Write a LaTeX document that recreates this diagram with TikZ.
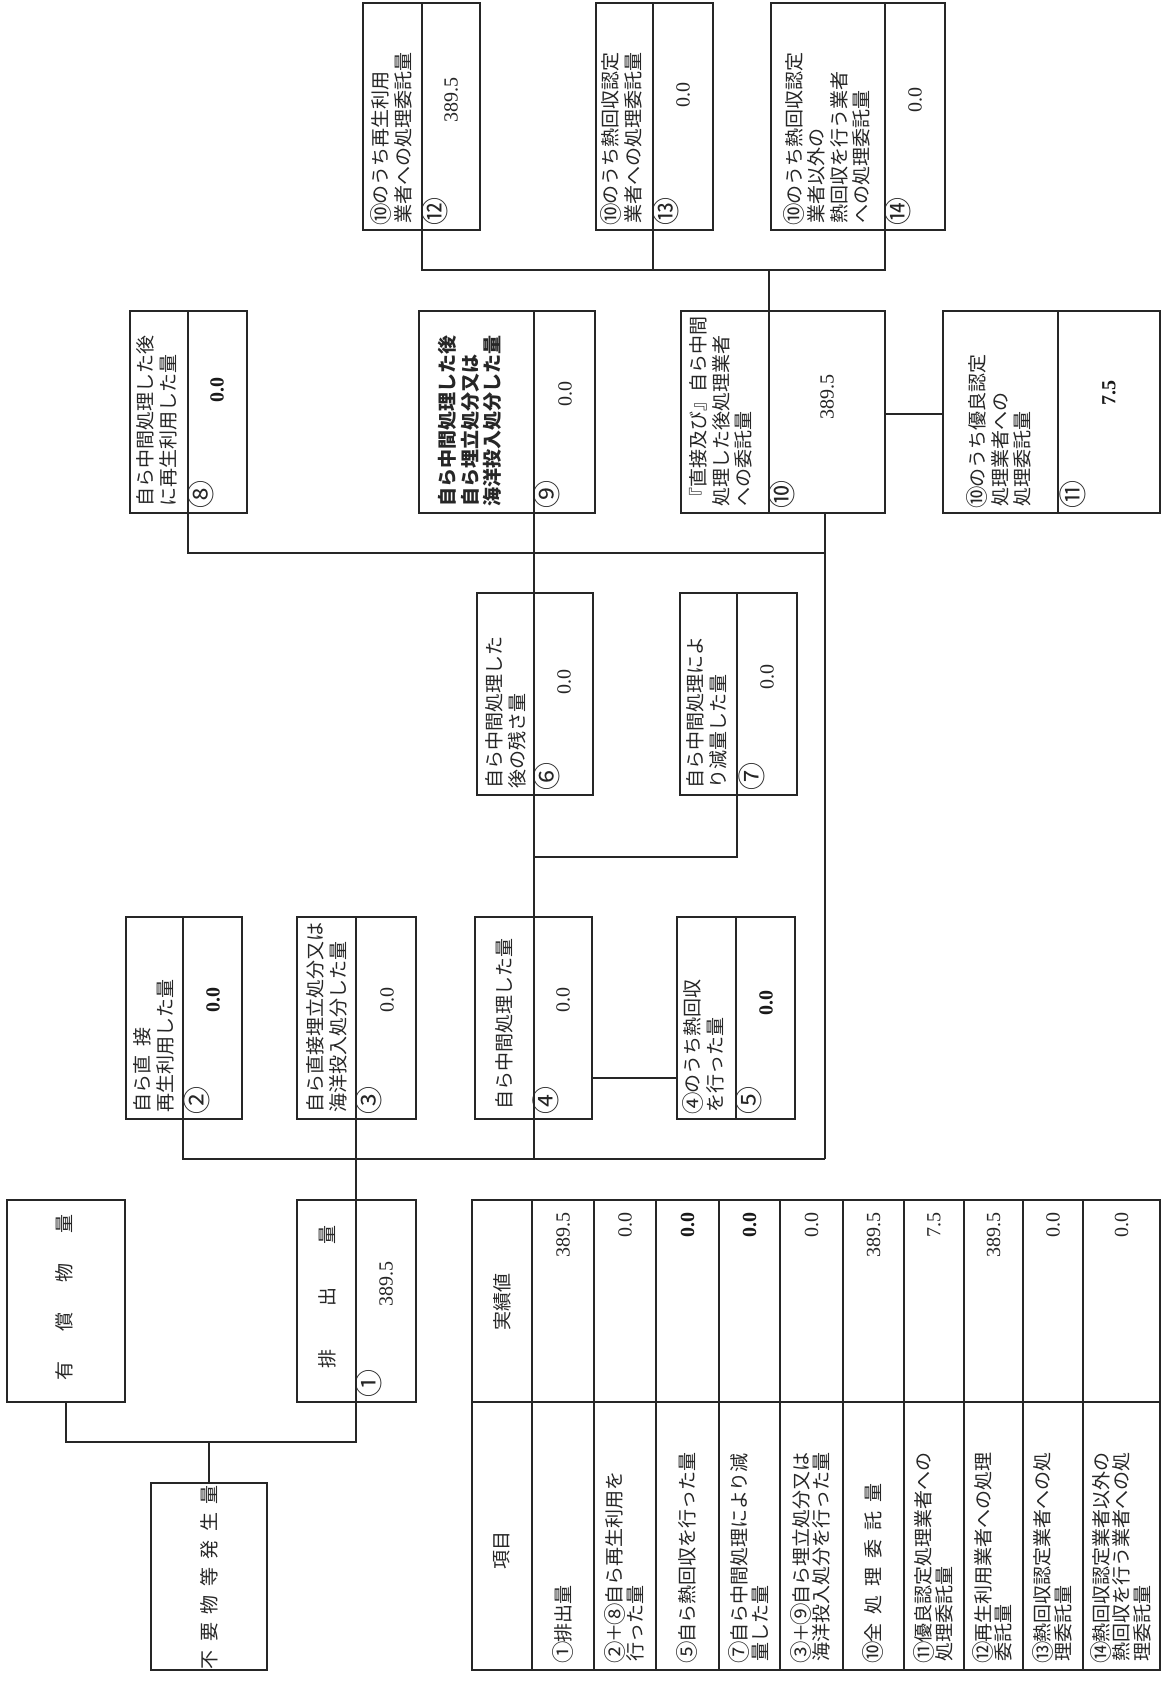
\documentclass[tikz,border=0pt]{standalone}
\usepackage{fontspec}
\usepackage{graphicx}
\setmainfont{Noto Sans CJK JP}
\newfontfamily\numfont{Liberation Serif}
\newcommand\cn[1]{\makebox[1em]{\raisebox{-0.06em}{\smash{\scalebox{1.18}{#1}}}}}
\newcommand\flowbox[6]{%
  \node[bx, minimum width={#4-#2}, minimum height={#5-#3}] (#1) at ({(#2+#4)/2},{(#3+#5)/2}) {};
  \coordinate (#1-dt) at (#6,#3);
  \coordinate (#1-db) at (#6,#5);
  \draw[ln] (#1-dt) -- (#1-db);
}
\begin{document}
\begin{tikzpicture}[x=1pt,y=-1pt,
  ln/.style={line width=1.3pt, draw=black!85},
  bx/.style={ln, rectangle, inner sep=0pt, outer sep=0pt},
  ttl/.style={rotate=90, anchor=west, align=left, inner sep=0pt, font=\fontsize{19}{22.5}\selectfont, text=black!85},
  mk/.style={rotate=90, anchor=west, inner sep=0pt, font=\fontsize{28}{28}\selectfont, text=black!85},
  vl/.style={rotate=90, inner sep=0pt, font=\numfont\fontsize{20}{20}\selectfont, text=black!85},
  vb/.style={rotate=90, inner sep=0pt, font=\numfont\bfseries\fontsize{20}{20}\selectfont, text=black!90},
  tl/.style={rotate=90, anchor=west, align=left, inner sep=0pt, font=\fontsize{19}{20.5}\selectfont, text=black!85},
  th/.style={rotate=90, inner sep=0pt, font=\fontsize{19}{19}\selectfont, text=black!85},
  big/.style={rotate=90, inner sep=0pt, font=\fontsize{19}{19}\selectfont, text=black!85}
]
\fill[white] (0,0) rectangle (1168,1689);
\useasboundingbox (0,0) rectangle (1168,1689);

% ---------- boxes ----------
\flowbox{b12}{363}{3}{480}{230}{422}
\flowbox{b13}{596}{3}{713}{230}{653}
\flowbox{b14}{771}{3}{945}{230}{885}
\flowbox{b8}{130}{311}{247}{513}{188}
\flowbox{b9}{419}{311}{595}{513}{534}
\flowbox{b10}{681}{311}{885}{513}{769}
\flowbox{b11}{943}{311}{1160}{513}{1058}
\flowbox{b6}{477}{593}{593}{795}{534}
\flowbox{b7}{680}{593}{797}{795}{737}
\flowbox{b2}{126}{917}{242}{1119}{183}
\flowbox{b3}{297}{917}{416}{1119}{356}
\flowbox{b4}{475}{917}{592}{1119}{534}
\flowbox{b5}{677}{917}{795}{1119}{736}
\flowbox{b1}{297}{1200}{416}{1402}{356}
\node[bx, minimum width=118, minimum height=202] (yushou) at (66,1301) {};
\node[bx, minimum width=116, minimum height=187] (fuyou) at (209,1576.5) {};

% ---------- connectors ----------
\coordinate (jL) at (66,1442);
\coordinate (jR) at (356,1442);
\coordinate (jS) at (209,1442);
\draw[ln] (yushou.south) -- (jL) -- (jR) -- (b1-db);
\draw[ln] (jS) -- (fuyou.north);
\coordinate (busBL) at (183,1159);
\coordinate (busBR) at (825,1159);
\draw[ln] (b2-db) -- (busBL) -- (busBR);
\draw[ln] (b3-db) -- (b1-dt);
\draw[ln] (b4-db) -- (b4-db |- busBL);
\draw[ln] (busBR) -- (b10.south -| busBR);
\draw[ln] (b4.east |- 0,1078) -- (b5.west |- 0,1078);
\coordinate (j7) at (534,857);
\draw[ln] (b4-dt) -- (b6-db);
\draw[ln] (b7-db) -- (b7-db |- j7) -- (j7);
\draw[ln] (b6-dt) -- (b9-db);
\coordinate (busML) at (188,553);
\coordinate (busMR) at (825,553);
\draw[ln] (b8-db) -- (busML) -- (busMR);
\draw[ln] (b10.east |- 0,414) -- (b11.west |- 0,414);
\coordinate (busTL) at (422,270);
\coordinate (busTR) at (885,270);
\draw[ln] (b12-db) -- (busTL) -- (busTR) -- (b14-db);
\draw[ln] (b13-db) -- (b13-db |- busTL);
\draw[ln] (b10-dt) -- (b10-dt |- busTL);

% ---------- box texts ----------
\node[ttl] at (392,224) {\cn{⑩}のうち再生利用\\業者への処理委託量};
\node[mk] at (435,226) {⑫};
\node[vl] at (451,100) {389.5};

\node[ttl] at (622,224) {\cn{⑩}のうち熱回収認定\\業者への処理委託量};
\node[mk] at (666,226) {⑬};
\node[vl] at (683,95) {0.0};

\node[ttl] at (828,224) {\cn{⑩}のうち熱回収認定\\業者以外の\\熱回収を行う業者\\への処理委託量};
\node[mk] at (898,226) {⑭};
\node[vl] at (915,100) {0.0};

\node[ttl] at (157,507) {自ら中間処理した後\\に再生利用した量};
\node[mk] at (201,509) {⑧};
\node[vb] at (217,390) {0.0};

\node[ttl, font=\bfseries\fontsize{19}{22.5}\selectfont] at (470,507) {自ら中間処理した後\\自ら埋立処分又は\\海洋投入処分した量};
\node[mk] at (547,509) {⑨};
\node[vl] at (565,394) {0.0};

\node[ttl] at (721,507) {『直接及び』自ら中間\\処理した後処理業者\\への委託量};
\node[mk] at (782,509) {⑩};
\node[vl] at (827,397) {389.5};

\node[ttl] at (1000,507) {\cn{⑩}のうち優良認定\\処理業者への\\処理委託量};
\node[mk] at (1073,509) {⑪};
\node[vb] at (1109,393) {7.5};

\node[ttl] at (506,789) {自ら中間処理した\\後の残さ量};
\node[mk] at (547,791) {⑥};
\node[vl] at (564,682) {0.0};

\node[ttl] at (707,789) {自ら中間処理によ\\り減量した量};
\node[mk] at (752,791) {⑦};
\node[vl] at (767,677) {0.0};

\node[ttl] at (154,1113) {自ら直\hspace{9pt}接\\再生利用した量};
\node[mk] at (197,1115) {②};
\node[vb] at (213,1000) {0.0};

\node[ttl] at (327,1113) {自ら直接埋立処分又は\\海洋投入処分した量};
\node[mk] at (369,1115) {③};
\node[vl] at (387,1000) {0.0};

\node[ttl] at (504,1110) {自ら中間処理した量};
\node[mk] at (546,1115) {④};
\node[vl] at (563,1000) {0.0};

\node[ttl] at (704,1113) {\cn{④}のうち熱回収\\を行った量};
\node[mk] at (749,1115) {⑤};
\node[vb] at (766,1003) {0.0};

\node[big] at (327,1297) {排\hspace{43pt}出\hspace{43pt}量};
\node[mk] at (369,1398) {①};
\node[vl] at (386,1284) {389.5};

\node[big] at (64,1297) {有\hspace{30pt}償\hspace{30pt}物\hspace{30pt}量};
\node[big] at (209,1577) {不\hspace{8.5pt}要\hspace{8.5pt}物\hspace{8.5pt}等\hspace{8.5pt}発\hspace{8.5pt}生\hspace{8.5pt}量};

% ---------- table ----------
\node[bx, minimum width=688, minimum height=470] (tbl) at (816,1435) {};
\draw[ln] (tbl.west |- 0,1402) -- (tbl.east |- 0,1402);
\foreach \rx in {532,594,656,719,780,843,904,964,1023,1083}
  \draw[ln] (tbl.north -| \rx,0) -- (tbl.south -| \rx,0);

\node[th] at (502,1550) {項目};
\node[th] at (502,1302) {実績値};

\node[tl] at (563,1662) {\cn{①}排出量};
\node[tl] at (625,1662) {\cn{②}＋\cn{⑧}自ら再生利用を\\行った量};
\node[tl] at (687.5,1662) {\cn{⑤}自ら熱回収を行った量};
\node[tl] at (749.5,1662) {\cn{⑦}自ら中間処理により減\\量した量};
\node[tl] at (811.5,1662) {\cn{③}＋\cn{⑨}自ら埋立処分又は\\海洋投入処分を行った量};
\node[tl] at (873.5,1662) {\cn{⑩}全\hspace{9pt}処\hspace{9pt}理\hspace{9pt}委\hspace{9pt}託\hspace{9pt}量};
\node[tl] at (934,1662) {\cn{⑪}優良認定処理業者への\\処理委託量};
\node[tl] at (993.5,1662) {\cn{⑫}再生利用業者への処理\\委託量};
\node[tl] at (1053,1662) {\cn{⑬}熱回収認定業者への処\\理委託量};
\node[tl] at (1121.5,1662) {\cn{⑭}熱回収認定業者以外の\\熱回収を行う業者への処\\理委託量};

\node[vl, anchor=east] at (563,1212) {389.5};
\node[vl, anchor=east] at (625,1212) {0.0};
\node[vb, anchor=east] at (687.5,1212) {0.0};
\node[vb, anchor=east] at (749.5,1212) {0.0};
\node[vl, anchor=east] at (811.5,1212) {0.0};
\node[vl, anchor=east] at (873.5,1212) {389.5};
\node[vl, anchor=east] at (934,1212) {7.5};
\node[vl, anchor=east] at (993.5,1212) {389.5};
\node[vl, anchor=east] at (1053,1212) {0.0};
\node[vl, anchor=east] at (1121.5,1212) {0.0};
\end{tikzpicture}
\end{document}
